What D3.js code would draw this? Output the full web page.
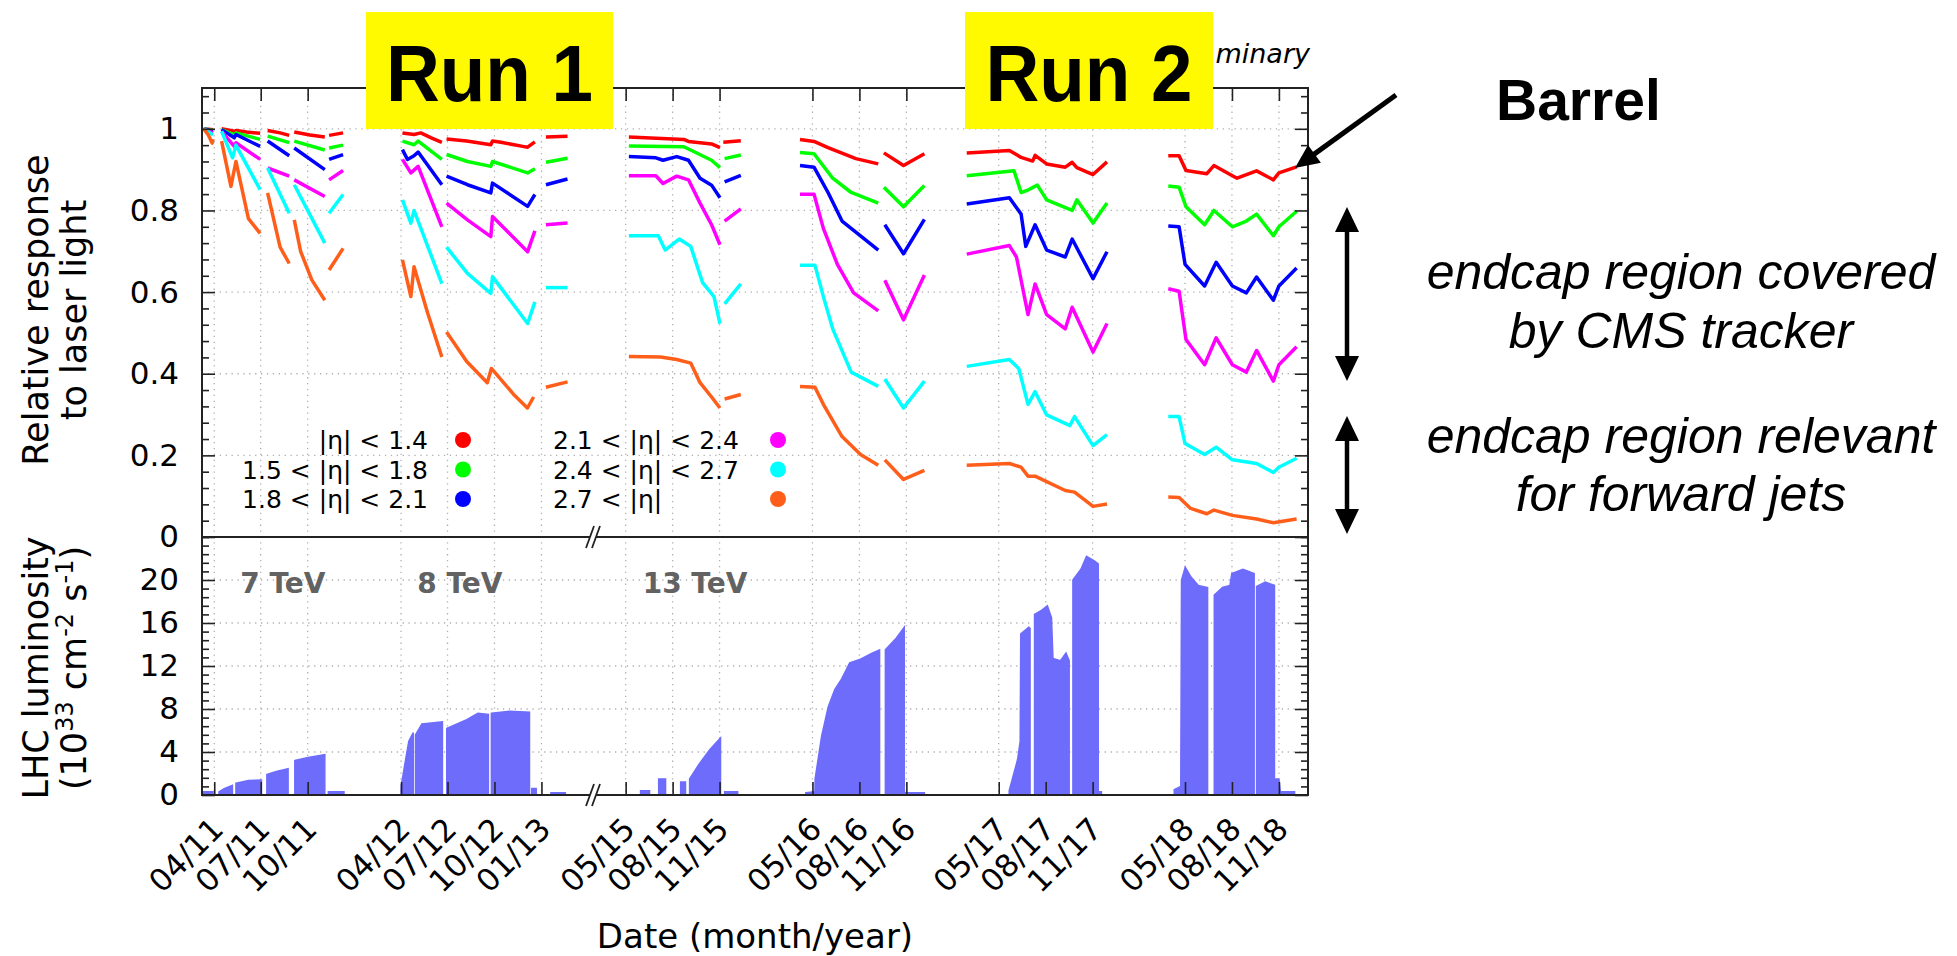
<!DOCTYPE html>
<html>
<head>
<meta charset="utf-8">
<script src="https://cdn.jsdelivr.net/npm/d3@7"></script>
<style>
  body { margin: 0; background: #fff; }
  svg { display: block; }
</style>
</head>
<body>
<svg id="chart" width="1957" height="956"></svg>
<script>
// ---- data (year as decimal, value) ----
const tickMonths = ["2011-04", "2011-07", "2011-10", "2012-04", "2012-07", "2012-10", "2013-01",
  "2015-05", "2015-08", "2015-11", "2016-05", "2016-08", "2016-11",
  "2017-05", "2017-08", "2017-11", "2018-05", "2018-08", "2018-11"];
const tickLabels = ["04/11", "07/11", "10/11", "04/12", "07/12", "10/12", "01/13",
  "05/15", "08/15", "11/15", "05/16", "08/16", "11/16",
  "05/17", "08/17", "11/17", "05/18", "08/18", "11/18"];

const respTicks = [0, 0.2, 0.4, 0.6, 0.8, 1];
const lumiTicks = [0, 4, 8, 12, 16, 20];

const legendLabels = ["|\u03b7| < 1.4", "1.5 < |\u03b7| < 1.8", "1.8 < |\u03b7| < 2.1",
  "2.1 < |\u03b7| < 2.4", "2.4 < |\u03b7| < 2.7", "2.7 < |\u03b7|"];
const seriesColors = ["#ff0000", "#00ff00", "#0000ff", "#ff00ff", "#00ffff", "#ff5e1a"];

// each series: list of running periods, each a list of [year, relative response]
const respEta14 = [
  [[2011.19, 1.0], [2011.24, 0.998]],
  [[2011.286, 1.0], [2011.354, 0.994], [2011.363, 0.996], [2011.42, 0.992], [2011.493, 0.989]],
  [[2011.533, 0.996], [2011.60, 0.99], [2011.649, 0.984]],
  [[2011.676, 0.992], [2011.76, 0.985], [2011.84, 0.98]],
  [[2011.863, 0.984], [2011.938, 0.99]],
  [[2012.256, 0.99], [2012.318, 0.986], [2012.354, 0.99], [2012.41, 0.978], [2012.467, 0.967]],
  [[2012.492, 0.975], [2012.60, 0.97], [2012.729, 0.961], [2012.738, 0.97], [2012.783, 0.967], [2012.90, 0.957], [2012.926, 0.955], [2012.965, 0.968]],
  [[2013.024, 0.98], [2013.14, 0.982]],
  [[2015.346, 0.98], [2015.641, 0.974], [2015.666, 0.969], [2015.79, 0.963], [2015.835, 0.954]],
  [[2015.853, 0.967], [2015.947, 0.971]],
  [[2016.264, 0.974], [2016.339, 0.969], [2016.414, 0.954], [2016.563, 0.927], [2016.683, 0.914]],
  [[2016.713, 0.941], [2016.818, 0.91], [2016.93, 0.939]],
  [[2017.157, 0.941], [2017.386, 0.947], [2017.449, 0.93], [2017.511, 0.921], [2017.524, 0.935], [2017.586, 0.914], [2017.686, 0.906], [2017.723, 0.918], [2017.748, 0.905], [2017.835, 0.888], [2017.91, 0.919]],
  [[2018.239, 0.934], [2018.297, 0.934], [2018.334, 0.898], [2018.446, 0.89], [2018.484, 0.91], [2018.571, 0.888], [2018.608, 0.879], [2018.713, 0.897], [2018.803, 0.875], [2018.833, 0.892], [2018.928, 0.907]]
];
const respEta18 = [
  [[2011.19, 1.0], [2011.24, 0.996]],
  [[2011.286, 0.998], [2011.354, 0.985], [2011.363, 0.99], [2011.493, 0.974]],
  [[2011.533, 0.982], [2011.649, 0.966]],
  [[2011.676, 0.97], [2011.84, 0.948]],
  [[2011.863, 0.953], [2011.938, 0.96]],
  [[2012.256, 0.97], [2012.318, 0.961], [2012.34, 0.97], [2012.467, 0.925]],
  [[2012.492, 0.937], [2012.604, 0.92], [2012.729, 0.908], [2012.738, 0.92], [2012.926, 0.892], [2012.965, 0.902]],
  [[2013.024, 0.918], [2013.14, 0.928]],
  [[2015.346, 0.958], [2015.641, 0.956], [2015.691, 0.945], [2015.79, 0.923], [2015.835, 0.905]],
  [[2015.86, 0.927], [2015.947, 0.936]],
  [[2016.264, 0.942], [2016.339, 0.939], [2016.439, 0.879], [2016.538, 0.844], [2016.683, 0.818]],
  [[2016.713, 0.857], [2016.818, 0.809], [2016.93, 0.861]],
  [[2017.157, 0.885], [2017.411, 0.897], [2017.449, 0.844], [2017.486, 0.85], [2017.536, 0.862], [2017.586, 0.826], [2017.723, 0.8], [2017.748, 0.826], [2017.835, 0.769], [2017.91, 0.818]],
  [[2018.239, 0.86], [2018.297, 0.857], [2018.334, 0.809], [2018.434, 0.765], [2018.484, 0.8], [2018.583, 0.76], [2018.658, 0.774], [2018.713, 0.791], [2018.803, 0.738], [2018.833, 0.76], [2018.928, 0.798]]
];
const respEta21 = [
  [[2011.19, 1.0], [2011.24, 0.994]],
  [[2011.286, 0.998], [2011.354, 0.978], [2011.363, 0.986], [2011.493, 0.957]],
  [[2011.533, 0.97], [2011.649, 0.934]],
  [[2011.676, 0.953], [2011.84, 0.9]],
  [[2011.863, 0.925], [2011.938, 0.937]],
  [[2012.256, 0.949], [2012.283, 0.925], [2012.318, 0.934], [2012.34, 0.943], [2012.467, 0.863]],
  [[2012.492, 0.884], [2012.604, 0.863], [2012.729, 0.843], [2012.738, 0.867], [2012.926, 0.81], [2012.965, 0.839]],
  [[2013.024, 0.863], [2013.14, 0.877]],
  [[2015.346, 0.932], [2015.491, 0.929], [2015.529, 0.923], [2015.603, 0.932], [2015.666, 0.923], [2015.728, 0.879], [2015.79, 0.862], [2015.835, 0.831]],
  [[2015.86, 0.87], [2015.947, 0.886]],
  [[2016.264, 0.91], [2016.339, 0.906], [2016.414, 0.844], [2016.489, 0.774], [2016.588, 0.738], [2016.683, 0.703]],
  [[2016.718, 0.765], [2016.818, 0.694], [2016.93, 0.778]],
  [[2017.157, 0.816], [2017.386, 0.831], [2017.449, 0.791], [2017.474, 0.712], [2017.524, 0.765], [2017.586, 0.703], [2017.686, 0.686], [2017.723, 0.73], [2017.835, 0.633], [2017.91, 0.699]],
  [[2018.239, 0.762], [2018.297, 0.76], [2018.329, 0.668], [2018.434, 0.615], [2018.496, 0.673], [2018.583, 0.615], [2018.658, 0.598], [2018.713, 0.637], [2018.803, 0.58], [2018.833, 0.615], [2018.928, 0.659]]
];
const respEta24 = [
  [[2011.19, 1.0], [2011.24, 0.99]],
  [[2011.286, 0.994], [2011.354, 0.957], [2011.363, 0.966], [2011.493, 0.925]],
  [[2011.533, 0.904], [2011.649, 0.884]],
  [[2011.676, 0.875], [2011.84, 0.834]],
  [[2011.863, 0.875], [2011.938, 0.898]],
  [[2012.256, 0.925], [2012.301, 0.892], [2012.34, 0.908], [2012.467, 0.76]],
  [[2012.492, 0.818], [2012.604, 0.777], [2012.729, 0.736], [2012.738, 0.785], [2012.926, 0.699], [2012.965, 0.75]],
  [[2013.024, 0.765], [2013.14, 0.769]],
  [[2015.346, 0.885], [2015.491, 0.885], [2015.529, 0.866], [2015.603, 0.884], [2015.666, 0.875], [2015.728, 0.818], [2015.79, 0.765], [2015.835, 0.716]],
  [[2015.86, 0.774], [2015.947, 0.804]],
  [[2016.264, 0.84], [2016.339, 0.84], [2016.389, 0.756], [2016.464, 0.668], [2016.551, 0.598], [2016.683, 0.554]],
  [[2016.718, 0.629], [2016.818, 0.532], [2016.93, 0.642]],
  [[2017.157, 0.693], [2017.386, 0.714], [2017.424, 0.686], [2017.486, 0.545], [2017.524, 0.62], [2017.586, 0.545], [2017.686, 0.51], [2017.723, 0.563], [2017.835, 0.453], [2017.91, 0.523]],
  [[2018.239, 0.608], [2018.297, 0.602], [2018.334, 0.484], [2018.434, 0.422], [2018.496, 0.488], [2018.583, 0.422], [2018.658, 0.404], [2018.713, 0.457], [2018.803, 0.382], [2018.833, 0.422], [2018.928, 0.466]]
];
const respEta27 = [
  [[2011.19, 1.0], [2011.24, 0.985]],
  [[2011.286, 0.994], [2011.345, 0.929], [2011.363, 0.96], [2011.493, 0.851]],
  [[2011.533, 0.904], [2011.649, 0.793]],
  [[2011.676, 0.863], [2011.84, 0.72]],
  [[2011.863, 0.793], [2011.938, 0.839]],
  [[2012.256, 0.826], [2012.301, 0.769], [2012.318, 0.8], [2012.467, 0.621]],
  [[2012.492, 0.71], [2012.604, 0.646], [2012.729, 0.597], [2012.738, 0.638], [2012.926, 0.523], [2012.965, 0.576]],
  [[2013.024, 0.611], [2013.14, 0.611]],
  [[2015.346, 0.738], [2015.504, 0.738], [2015.541, 0.703], [2015.616, 0.73], [2015.678, 0.712], [2015.741, 0.624], [2015.803, 0.589], [2015.835, 0.523]],
  [[2015.86, 0.571], [2015.947, 0.62]],
  [[2016.264, 0.666], [2016.344, 0.666], [2016.389, 0.589], [2016.439, 0.51], [2016.538, 0.404], [2016.683, 0.369]],
  [[2016.718, 0.387], [2016.818, 0.316], [2016.93, 0.382]],
  [[2017.157, 0.418], [2017.386, 0.435], [2017.436, 0.413], [2017.486, 0.325], [2017.524, 0.356], [2017.586, 0.299], [2017.711, 0.273], [2017.736, 0.295], [2017.835, 0.224], [2017.91, 0.251]],
  [[2018.239, 0.295], [2018.297, 0.295], [2018.329, 0.229], [2018.434, 0.202], [2018.496, 0.22], [2018.583, 0.189], [2018.713, 0.18], [2018.803, 0.158], [2018.833, 0.171], [2018.928, 0.193]]
];
const respEtaFwd = [
  [[2011.19, 1.0], [2011.215, 0.985], [2011.235, 0.965], [2011.24, 0.975]],
  [[2011.286, 0.97], [2011.336, 0.859], [2011.363, 0.92], [2011.43, 0.78], [2011.493, 0.744]],
  [[2011.533, 0.843], [2011.60, 0.71], [2011.649, 0.67]],
  [[2011.676, 0.777], [2011.71, 0.70], [2011.77, 0.63], [2011.84, 0.58]],
  [[2011.863, 0.654], [2011.938, 0.707]],
  [[2012.256, 0.679], [2012.301, 0.589], [2012.318, 0.662], [2012.39, 0.55], [2012.467, 0.441]],
  [[2012.492, 0.502], [2012.60, 0.43], [2012.71, 0.378], [2012.732, 0.413], [2012.85, 0.35], [2012.925, 0.316], [2012.958, 0.343]],
  [[2013.024, 0.367], [2013.14, 0.38]],
  [[2015.346, 0.442], [2015.516, 0.441], [2015.603, 0.435], [2015.678, 0.426], [2015.728, 0.378], [2015.79, 0.343], [2015.835, 0.316]],
  [[2015.86, 0.338], [2015.947, 0.349]],
  [[2016.264, 0.369], [2016.344, 0.367], [2016.389, 0.325], [2016.489, 0.246], [2016.588, 0.202], [2016.683, 0.176]],
  [[2016.718, 0.189], [2016.818, 0.141], [2016.93, 0.163]],
  [[2017.157, 0.176], [2017.386, 0.18], [2017.449, 0.171], [2017.486, 0.149], [2017.524, 0.149], [2017.686, 0.114], [2017.736, 0.11], [2017.835, 0.075], [2017.91, 0.081]],
  [[2018.239, 0.098], [2018.297, 0.097], [2018.359, 0.07], [2018.446, 0.057], [2018.484, 0.066], [2018.583, 0.053], [2018.713, 0.044], [2018.803, 0.035], [2018.928, 0.044]]
];

// LHC luminosity (1e33 cm-2 s-1): blocks of [year, peak]
const lumiBlocks = [
  [[2011.19, 0.3], [2011.24, 0.3]],
  [[2011.272, 0.3], [2011.30, 0.6], [2011.344, 0.9]],
  [[2011.363, 1.1], [2011.43, 1.35], [2011.50, 1.4]],
  [[2011.529, 1.9], [2011.58, 2.2], [2011.643, 2.45]],
  [[2011.679, 3.2], [2011.75, 3.5], [2011.84, 3.75]],
  [[2011.859, 0.3], [2011.943, 0.3]],
  [[2012.249, 0.8], [2012.27, 3.0], [2012.29, 5.0], [2012.314, 5.8]],
  [[2012.326, 5.6], [2012.36, 6.6], [2012.47, 6.8]],
  [[2012.493, 6.2], [2012.60, 7.0], [2012.66, 7.6], [2012.716, 7.5]],
  [[2012.732, 7.6], [2012.83, 7.8], [2012.936, 7.7]],
  [[2012.948, 0.6], [2012.972, 0.6]],
  [[2013.051, 0.2], [2013.128, 0.2]],
  [[2015.409, 0.4], [2015.457, 0.4]],
  [[2015.506, 1.5], [2015.543, 1.5]],
  [[2015.624, 1.2], [2015.65, 1.2]],
  [[2015.672, 1.5], [2015.72, 2.8], [2015.78, 4.2], [2015.838, 5.3]],
  [[2015.86, 0.3], [2015.93, 0.3]],
  [[2016.295, 0.2], [2016.344, 0.3], [2016.345, 1.5], [2016.38, 5.5], [2016.415, 8.2], [2016.45, 9.8], [2016.487, 10.8], [2016.53, 12.3], [2016.583, 12.6], [2016.65, 13.2], [2016.69, 13.5]],
  [[2016.721, 13.5], [2016.78, 14.6], [2016.822, 15.6]],
  [[2016.83, 0.2], [2016.93, 0.2]],
  [[2017.385, 0.4], [2017.43, 3.3], [2017.444, 5.0], [2017.447, 15.0], [2017.49, 15.6], [2017.497, 15.5]],
  [[2017.521, 16.8], [2017.56, 17.2], [2017.59, 17.6], [2017.612, 16.5], [2017.62, 12.7], [2017.66, 12.5], [2017.69, 13.2], [2017.707, 12.5]],
  [[2017.727, 20.0], [2017.77, 21.0], [2017.80, 22.2], [2017.84, 21.8], [2017.863, 21.5]],
  [[2017.863, 0.3], [2017.88, 0.3]],
  [[2018.271, 0.5], [2018.306, 0.8], [2018.31, 20.0], [2018.33, 21.2], [2018.36, 20.3], [2018.40, 19.5], [2018.45, 19.3]],
  [[2018.486, 18.6], [2018.53, 19.3], [2018.57, 19.5], [2018.58, 20.6], [2018.64, 21.0], [2018.70, 20.6]],
  [[2018.713, 19.4], [2018.76, 19.8], [2018.809, 19.5]],
  [[2018.809, 1.5], [2018.833, 1.5], [2018.84, 0.3], [2018.917, 0.3]]
];

const energyLabels = [["7 TeV", 2011.386], ["8 TeV", 2012.335], ["13 TeV", 2015.42]];

// ---- layout ----
const X0 = 202, X1 = 1308, XB = 593;
const yTop = 88, yMid = 537, yBot = 795;
const sans = "'DejaVu Sans', Verdana, sans-serif";
const helv = "'Liberation Sans', Arial, Helvetica, sans-serif";

const svg = d3.select("#chart");

function yr(v) {
  const a = Math.floor(v);
  const s = Date.UTC(a, 0, 1), e = Date.UTC(a + 1, 0, 1);
  return new Date(s + (v - a) * (e - s));
}

// broken time axis: the gap 04/2013 - 02/2015 is squeezed out
const x = d3.scaleUtc()
  .domain([new Date(Date.UTC(2011, 2, 8)), new Date(Date.UTC(2013, 3, 12)),
           new Date(Date.UTC(2015, 1, 26)), new Date(Date.UTC(2018, 11, 28))])
  .range([X0, XB, XB, X1]);
const yR = d3.scaleLinear().domain([0, 1.1]).range([yMid, yTop]);
const yL = d3.scaleLinear().domain([0, 24]).range([yBot, yMid]);

const tickDates = tickMonths.map(m => new Date(m + "-01T00:00:00Z"));

// grid
const grid = svg.append("g")
  .attr("stroke", "#b0b0b0")
  .attr("stroke-width", 1.3)
  .attr("stroke-dasharray", "1.3,4.6");
grid.selectAll(".gx").data(tickDates).join("line")
  .attr("x1", d => x(d)).attr("x2", d => x(d))
  .attr("y1", yTop).attr("y2", yBot);
grid.selectAll(".gr").data(respTicks.filter(d => d > 0)).join("line")
  .attr("x1", X0).attr("x2", X1)
  .attr("y1", d => yR(d)).attr("y2", d => yR(d));
grid.selectAll(".gl").data(lumiTicks.filter(d => d > 0)).join("line")
  .attr("x1", X0).attr("x2", X1)
  .attr("y1", d => yL(d)).attr("y2", d => yL(d));

// luminosity
const area = d3.area()
  .x(d => x(yr(d[0])))
  .y0(yL(0))
  .y1(d => yL(d[1]));
svg.append("g").selectAll("path").data(lumiBlocks).join("path")
  .attr("d", area)
  .attr("fill", "#6e6cfb")
  .attr("stroke", "#6e6cfb")
  .attr("stroke-width", 1.5);

// response curves
const line = d3.line()
  .x(d => x(yr(d[0])))
  .y(d => yR(d[1]));
const series = [respEta14, respEta18, respEta21, respEta24, respEta27, respEtaFwd];
series.forEach((segs, i) => {
  svg.append("g")
    .attr("fill", "none")
    .attr("stroke", seriesColors[i])
    .attr("stroke-width", 3.5)
    .attr("stroke-linejoin", "round")
    .selectAll("path").data(segs).join("path")
    .attr("d", line);
});

// frame
svg.append("rect")
  .attr("x", X0).attr("y", yTop)
  .attr("width", X1 - X0).attr("height", yBot - yTop)
  .attr("fill", "none").attr("stroke", "#222").attr("stroke-width", 2);
svg.append("line")
  .attr("x1", X0).attr("x2", X1).attr("y1", yMid).attr("y2", yMid)
  .attr("stroke", "#222").attr("stroke-width", 2);

// axes
function styleAxis(g) {
  g.select(".domain").remove();
  g.selectAll(".tick line").attr("stroke", "#222").attr("stroke-width", 1.6);
  g.selectAll("text").attr("font-family", sans).attr("font-size", 31).attr("fill", "#000");
}
const respMinor = d3.range(0, 1.1001, 0.04).filter(v => respTicks.every(t => Math.abs(t - v) > 1e-6));
const lumiMinor = d3.range(0, 24.001, 0.8).filter(v => lumiTicks.every(t => Math.abs(t - v) > 1e-6));

svg.append("g").attr("transform", `translate(${X0},0)`)
  .call(d3.axisLeft(yR).tickValues(respTicks).tickSize(-13).tickPadding(23).tickFormat(d3.format("")))
  .call(styleAxis);
svg.append("g").attr("transform", `translate(${X0},0)`)
  .call(d3.axisLeft(yR).tickValues(respMinor).tickSize(-7).tickFormat(""))
  .call(styleAxis);
svg.append("g").attr("transform", `translate(${X0},0)`)
  .call(d3.axisLeft(yL).tickValues(lumiTicks).tickSize(-13).tickPadding(23))
  .call(styleAxis);
svg.append("g").attr("transform", `translate(${X0},0)`)
  .call(d3.axisLeft(yL).tickValues(lumiMinor).tickSize(-7).tickFormat(""))
  .call(styleAxis);
svg.append("g").attr("transform", `translate(${X1},0)`)
  .call(d3.axisRight(yR).tickValues(respTicks).tickSize(-13).tickFormat(""))
  .call(styleAxis);
svg.append("g").attr("transform", `translate(${X1},0)`)
  .call(d3.axisRight(yR).tickValues(respMinor).tickSize(-7).tickFormat(""))
  .call(styleAxis);
svg.append("g").attr("transform", `translate(${X1},0)`)
  .call(d3.axisRight(yL).tickValues(lumiTicks).tickSize(-13).tickFormat(""))
  .call(styleAxis);
svg.append("g").attr("transform", `translate(${X1},0)`)
  .call(d3.axisRight(yL).tickValues(lumiMinor).tickSize(-7).tickFormat(""))
  .call(styleAxis);
svg.append("g").attr("transform", `translate(0,${yTop})`)
  .call(d3.axisTop(x).tickValues(tickDates).tickSize(-13).tickFormat(""))
  .call(styleAxis);
svg.append("g").attr("transform", `translate(0,${yBot})`)
  .call(d3.axisBottom(x).tickValues(tickDates).tickSize(-13).tickFormat(""))
  .call(styleAxis);

// rotated date labels
svg.append("g").selectAll("text").data(tickDates).join("text")
  .attr("transform", d => `translate(${x(d) + 11},831) rotate(-45)`)
  .attr("text-anchor", "end")
  .attr("font-family", sans).attr("font-size", 31)
  .text((d, i) => tickLabels[i]);

// axis break marks
[yMid, yBot].forEach(cy => {
  const g = svg.append("g");
  g.append("polygon")
    .attr("points", `${XB - 7},${cy + 11} ${XB + 1},${cy - 11} ${XB + 7},${cy - 11} ${XB - 1},${cy + 11}`)
    .attr("fill", "#fff");
  g.append("line").attr("x1", XB - 7).attr("y1", cy + 11).attr("x2", XB + 1).attr("y2", cy - 11)
    .attr("stroke", "#222").attr("stroke-width", 1.8);
  g.append("line").attr("x1", XB - 1).attr("y1", cy + 11).attr("x2", XB + 7).attr("y2", cy - 11)
    .attr("stroke", "#222").attr("stroke-width", 1.8);
});

// axis titles
function vtitle(cx, cy) {
  return svg.append("text")
    .attr("transform", `translate(${cx},${cy}) rotate(-90)`)
    .attr("text-anchor", "middle")
    .attr("font-family", sans).attr("font-size", 35);
}
vtitle(48, 310).text("Relative response");
vtitle(86, 310).text("to laser light");
vtitle(48, 668).text("LHC luminosity");
const lt = vtitle(86, 668);
lt.append("tspan").text("(10");
lt.append("tspan").attr("dy", -13).attr("font-size", 24).text("33");
lt.append("tspan").attr("dy", 13).text(" cm");
lt.append("tspan").attr("dy", -13).attr("font-size", 24).text("-2");
lt.append("tspan").attr("dy", 13).text(" s");
lt.append("tspan").attr("dy", -13).attr("font-size", 24).text("-1");
lt.append("tspan").attr("dy", 13).text(")");

svg.append("text")
  .attr("x", 755).attr("y", 948)
  .attr("text-anchor", "middle")
  .attr("font-family", sans).attr("font-size", 34)
  .text("Date (month/year)");

// energy labels
svg.append("g").selectAll("text").data(energyLabels).join("text")
  .attr("x", d => x(yr(d[1]))).attr("y", 593)
  .attr("font-family", sans).attr("font-size", 28).attr("font-weight", "bold")
  .attr("fill", "#626262")
  .text(d => d[0]);

// legend
const legend = svg.append("g").attr("font-family", sans).attr("font-size", 25);
legendLabels.forEach((lab, i) => {
  const col = Math.floor(i / 3), row = i % 3;
  const cy = 440 + row * 29.5;
  legend.append("text")
    .attr("x", col === 0 ? 428 : 553).attr("y", cy + 9)
    .attr("text-anchor", col === 0 ? "end" : "start")
    .text(lab);
  legend.append("circle")
    .attr("cx", col === 0 ? 463 : 778).attr("cy", cy).attr("r", 8)
    .attr("fill", seriesColors[i]);
});

// tail of the preliminary tag that shows beside the Run 2 box
svg.append("text")
  .attr("x", 1310).attr("y", 63)
  .attr("text-anchor", "end")
  .attr("font-family", sans).attr("font-size", 27).attr("font-style", "italic")
  .text("minary");

// run boxes
[["Run 1", 366, 613], ["Run 2", 965, 1213]].forEach(([lab, a, b]) => {
  svg.append("rect").attr("x", a).attr("y", 12).attr("width", b - a).attr("height", 117)
    .attr("fill", "#fffa00");
  svg.append("text")
    .attr("x", (a + b) / 2).attr("y", 101)
    .attr("text-anchor", "middle")
    .attr("font-family", helv).attr("font-weight", "bold").attr("font-size", 80)
    .attr("textLength", 207).attr("lengthAdjust", "spacingAndGlyphs")
    .text(lab);
});

// annotations on the right
function arrow(x1, y1, x2, y2, len, half, w) {
  const dx = x2 - x1, dy = y2 - y1, L = Math.hypot(dx, dy);
  const ux = dx / L, uy = dy / L;
  const bx = x2 - ux * len, by = y2 - uy * len;
  svg.append("line").attr("x1", x1).attr("y1", y1).attr("x2", bx + ux * 2).attr("y2", by + uy * 2)
    .attr("stroke", "#000").attr("stroke-width", w);
  svg.append("polygon")
    .attr("points", `${x2},${y2} ${bx - uy * half},${by + ux * half} ${bx + uy * half},${by - ux * half}`)
    .attr("fill", "#000");
}
arrow(1396, 95, 1295, 168, 24, 11, 5);
arrow(1347, 295, 1347, 207, 25, 12, 4.5);
arrow(1347, 295, 1347, 381, 25, 12, 4.5);
arrow(1347, 475, 1347, 416, 25, 12, 4.5);
arrow(1347, 475, 1347, 534, 25, 12, 4.5);

svg.append("text")
  .attr("x", 1496).attr("y", 120)
  .attr("font-family", helv).attr("font-weight", "bold").attr("font-size", 57)
  .text("Barrel");

const notes = [["endcap region covered", 289], ["by CMS tracker", 348],
               ["endcap region relevant", 453], ["for forward jets", 511]];
svg.append("g").selectAll("text").data(notes).join("text")
  .attr("x", 1681).attr("y", d => d[1])
  .attr("text-anchor", "middle")
  .attr("font-family", helv).attr("font-style", "italic").attr("font-size", 50)
  .text(d => d[0]);
</script>
</body>
</html>
